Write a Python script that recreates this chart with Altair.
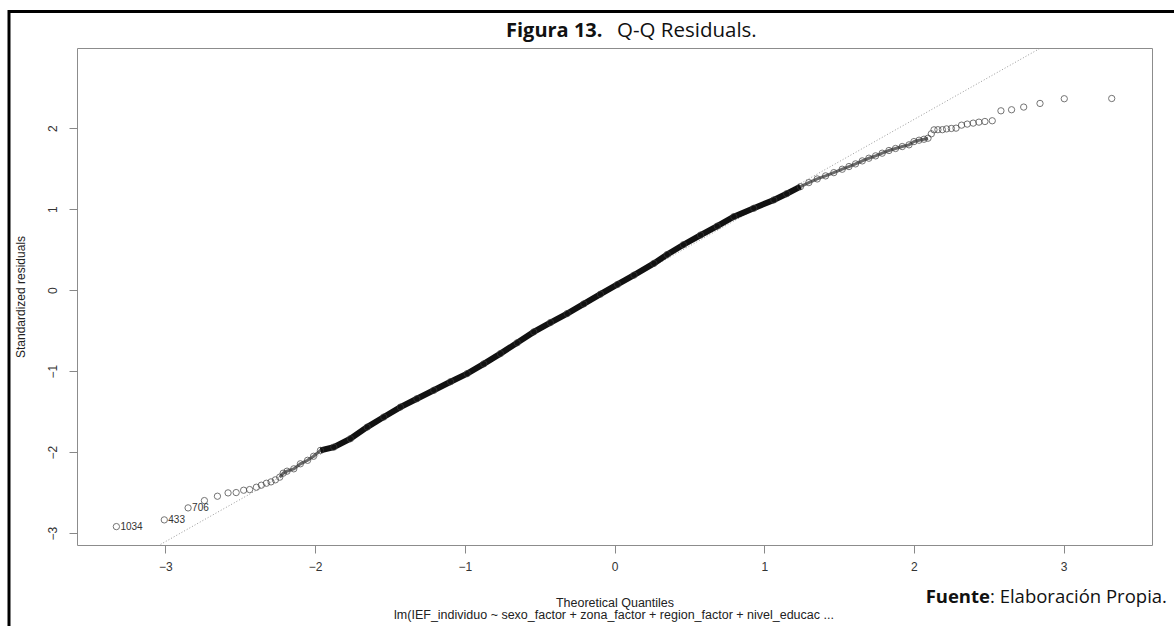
import altair as alt
import pandas as pd

# ---- data ----
# theoretical quantiles (x) and standardized residuals (y), sorted
qx = [-3.327, -3.007, -2.848, -2.739, -2.652, -2.581, -2.527, -2.477, -2.437, -2.392,
      -2.359, -2.325, -2.294, -2.265, -2.236, -2.213, -2.187, -2.142, -2.098, -2.05,
      -2.01, -1.964, -1.875, -1.764, -1.652, -1.541, -1.43, -1.32, -1.207, -1.095,
      -0.984, -0.873, -0.762, -0.65, -0.539, -0.428, -0.316, -0.205, -0.094, 0.02,
      0.13, 0.263, 0.352, 0.46, 0.575, 0.686, 0.797, 0.93, 1.064, 1.15,
      1.242, 1.298, 1.354, 1.41, 1.465, 1.521, 1.566, 1.61, 1.655, 1.699,
      1.744, 1.788, 1.833, 1.877, 1.922, 1.967, 2.0, 2.034, 2.067, 2.094,
      2.116, 2.134, 2.16, 2.19, 2.218, 2.25, 2.281, 2.318, 2.356, 2.396,
      2.434, 2.474, 2.523, 2.581, 2.652, 2.733, 2.842, 3.004, 3.321]
qy = [-2.918, -2.835, -2.687, -2.597, -2.543, -2.502, -2.498, -2.469, -2.461, -2.432,
      -2.407, -2.383, -2.366, -2.341, -2.308, -2.259, -2.234, -2.205, -2.143, -2.10,
      -2.05, -1.978, -1.937, -1.834, -1.69, -1.566, -1.443, -1.34, -1.236, -1.13,
      -1.03, -0.91, -0.783, -0.65, -0.515, -0.40, -0.289, -0.17, -0.05, 0.07,
      0.185, 0.33, 0.44, 0.56, 0.68, 0.79, 0.907, 1.01, 1.113, 1.19,
      1.277, 1.327, 1.372, 1.41, 1.45, 1.492, 1.525, 1.558, 1.595, 1.628,
      1.657, 1.69, 1.723, 1.748, 1.772, 1.793, 1.833, 1.85, 1.862, 1.875,
      1.929, 1.978, 1.98, 1.98, 1.99, 1.995, 1.999, 2.036, 2.049, 2.061,
      2.073, 2.081, 2.09, 2.213, 2.226, 2.259, 2.304, 2.362, 2.365]
# observation labels for the three most extreme residuals
label_x = [-3.327, -3.007, -2.848]
label_y = [-2.918, -2.835, -2.687]
label_txt = ["1034", "433", "706"]
# heavily overplotted part of the sample, and the moderately overplotted part
dense_from, dense_to = -1.964, 1.242
semi_from, semi_to = -2.236, 2.1
# reference line
line_intercept = 0.022
line_slope = 1.042
x_ticks = [-3, -2, -1, 0, 1, 2, 3]
y_ticks = [-3, -2, -1, 0, 1, 2]
x_domain = [-3.59, 3.59]
y_domain = [-3.145, 2.988]

pts = pd.DataFrame({"qx": qx, "qy": qy})
dense = pts[(pts.qx >= dense_from) & (pts.qx <= dense_to)]
semi = pts[(pts.qx >= semi_from) & (pts.qx <= semi_to)]
labs = pd.DataFrame({"qx": label_x, "qy": label_y, "t": label_txt})
qline = pd.DataFrame({"qx": x_domain,
                      "qy": [line_intercept + line_slope * v for v in x_domain]})

W, H = 1075, 497
AX = "Liberation Sans"

xs = alt.Scale(domain=x_domain, nice=False, zero=False)
ys = alt.Scale(domain=y_domain, nice=False, zero=False)

xaxis = alt.Axis(values=x_ticks, format="d", title="Theoretical Quantiles", titleY=57,
                 titleBaseline="middle", titleFont=AX, titleFontSize=12.5,
                 titleFontWeight="normal", titleColor="#222",
                 labelFont=AX, labelFontSize=12, labelColor="#333",
                 labelPadding=8, tickSize=8, tickColor="#888", domain=False,
                 grid=False, labelFlush=False, labelOverlap=False)
yaxis = alt.Axis(values=y_ticks, format="d", title="Standardized residuals", titleX=-57,
                 titleY=H / 2, titleAngle=270, titleAlign="center",
                 titleBaseline="middle", titleFont=AX, titleFontSize=12,
                 titleFontWeight="normal", titleColor="#222",
                 labelFont=AX, labelFontSize=12, labelColor="#333",
                 labelAngle=270, labelAlign="center", labelBaseline="bottom",
                 labelPadding=10, tickSize=8, tickColor="#888", domain=False,
                 grid=False, labelFlush=False, labelOverlap=False)

base_line = alt.Chart(qline).mark_line(
    clip=True, color="#9a9a9a", strokeWidth=1, strokeDash=[1, 2]
).encode(x=alt.X("qx:Q", scale=xs, axis=xaxis), y=alt.Y("qy:Q", scale=ys, axis=yaxis))

semi_band = alt.Chart(semi).mark_line(color="#6a6a6a", strokeWidth=3).encode(
    x=alt.X("qx:Q", scale=xs), y=alt.Y("qy:Q", scale=ys))

band = alt.Chart(dense).mark_line(color="#111", strokeWidth=6).encode(
    x=alt.X("qx:Q", scale=xs), y=alt.Y("qy:Q", scale=ys))

points = alt.Chart(pts).mark_point(
    shape="circle", filled=False, size=40, stroke="#3a3a3a", strokeWidth=1
).encode(x=alt.X("qx:Q", scale=xs), y=alt.Y("qy:Q", scale=ys))

labels = alt.Chart(labs).mark_text(
    align="left", baseline="middle", dx=4, font=AX, fontSize=10, color="#333"
).encode(x=alt.X("qx:Q", scale=xs), y=alt.Y("qy:Q", scale=ys), text="t:N")

one = pd.DataFrame({"a": [0]})

def txt(s, px, py, size, weight="normal", align="left", font="Open Sans", color="#111"):
    return alt.Chart(pd.DataFrame({"t": [s]})).mark_text(
        align=align, baseline="alphabetic", font=font, fontSize=size,
        fontWeight=weight, color=color
    ).encode(x=alt.value(px), y=alt.value(py), text="t:N")

OX, OY = 77, 48
title_a = txt("Figura 13.", 506 - OX, 37 - OY, 20, "bold")
title_b = txt("Q-Q Residuals.", 617 - OX, 37 - OY, 20.5)
sub = alt.Chart(pd.DataFrame({"t": ["lm(IEF_individuo ~ sexo_factor + zona_factor + region_factor + nivel_educac ..."]})).mark_text(
    align="center", baseline="middle", font=AX, fontSize=12.5, color="#222"
).encode(x=alt.value(614 - OX), y=alt.value(615 - OY), text="t:N")
foot_a = txt("Fuente", 990 - OX, 603 - OY, 18.5, "bold", align="right")
foot_b = txt(": Elaboración Propia.", 990 - OX, 603 - OY, 18.5, align="left")

frame_top = alt.Chart(one).mark_rule(color="black", strokeWidth=3).encode(
    x=alt.value(8 - OX), x2=alt.value(1174 - OX), y=alt.value(11.5 - OY))
frame_left = alt.Chart(one).mark_rule(color="black", strokeWidth=3).encode(
    x=alt.value(9 - OX), y=alt.value(10 - OY), y2=alt.value(626 - OY))

chart = alt.layer(
    base_line, semi_band, band, points, labels, title_a, title_b, sub, foot_a, foot_b,
    frame_top, frame_left
).properties(
    width=W, height=H,
    autosize=alt.AutoSizeParams(type="none"),
    padding={"left": OX, "top": OY, "right": 1174 - OX - W, "bottom": 626 - OY - H},
    background="white"
).configure_view(stroke="#8c8c8c", strokeWidth=1)

chart.save("out.html", embed_options={"renderer": "svg", "actions": False})
